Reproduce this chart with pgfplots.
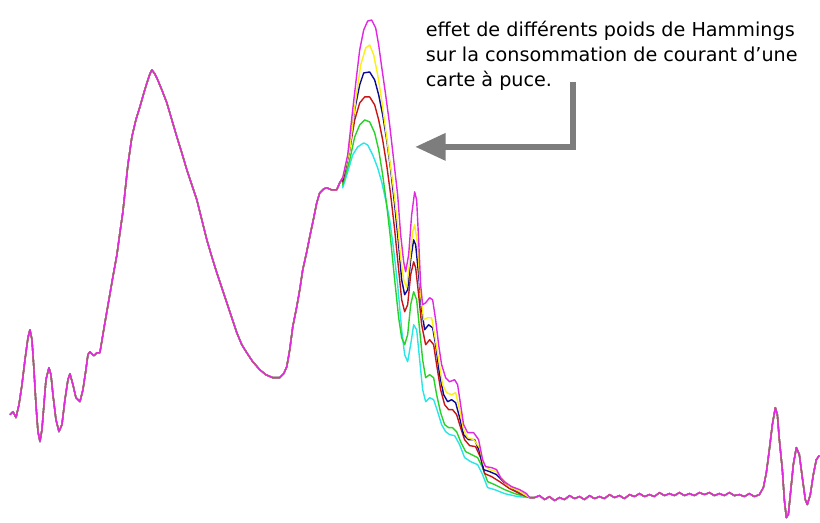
\documentclass[border=0pt]{standalone}
\usepackage{pgfplots}
\pgfplotsset{compat=1.18}
\usepackage{pgfplotstable}
\usepackage{fontspec}
\setmainfont{DejaVu Sans}
\definecolor{cM}{RGB}{225,40,225}
\definecolor{cY}{RGB}{250,240,20}
\definecolor{cB}{RGB}{10,10,150}
\definecolor{cR}{RGB}{200,20,20}
\definecolor{cG}{RGB}{40,210,40}
\definecolor{cC}{RGB}{40,230,230}
\definecolor{arr}{RGB}{125,125,125}

\pgfplotstableread{
x y
10 415
13 412
16 418
19 405
22 385
25 360
28 338
30 330
32 340
34 370
36 405
38 432
40 442
42 430
44 405
46 380
49 368
51 375
53 395
56 420
59 432
62 425
65 400
68 380
70 374
73 385
76 398
80 402
83 390
86 370
88 355
90 352
94 356
97 353
100 353
103 335
105 323
109 300
113 277
117 255
120 233
123 212
125 193
128 165
132 137
136 120
140 107
144 93
147 83
150 74
152 70
155 74
157 78
162 90
167 103
172 120
177 137
182 153
187 170
192 185
197 200
202 220
207 240
212 257
217 273
222 288
227 303
232 318
237 333
242 345
247 353
253 362
260 370
266 375
273 378
280 378
284 374
287 367
290 350
293 327
297 307
300 290
303 270
307 252
310 237
314 218
317 203
320 193
324 189
327 188
332 190
337 190
340 183
343 178
}\leftbase

\pgfplotstableread{
x y
530 498
535 498
540 496
545 500
550 497
555 501
560 498
565 500
570 496
575 499
580 497
585 500
590 496
595 499
600 497
605 499
610 495
615 498
620 496
625 499
630 495
635 497
640 494
645 497
650 495
655 497
660 493
665 496
670 494
675 496
680 493
685 496
690 494
695 496
700 493
705 495
710 493
715 496
720 494
725 496
730 493
735 496
740 495
745 497
750 494
755 497
760 495
764 488
767 473
770 450
773 425
776 408
778 415
780 440
783 470
785 500
787 518
789 515
791 495
794 465
797 448
800 455
803 478
806 500
808 505
811 495
814 475
817 460
820 456
}\rightbase

\begin{document}
\begin{tikzpicture}
\begin{axis}[
  scale only axis, width=820pt, height=523pt,
  xmin=0, xmax=820, ymin=0, ymax=523, y dir=reverse,
  hide axis, clip=false,
  every axis plot/.append style={line width=1.4pt, no markers, line join=round},
]
\path (0,0) rectangle (820,523);
% cyan
\addplot[cC] table {\leftbase};
\addplot[cC] coordinates {(343,178) (343,188) (348,172) (353,155) (358,147) (364,143) (368,145) (373,155) (378,168) (382,182) (386,200) (390,220) (394,250) (398,285) (402,330) (405,355) (408,362) (411,345) (414,325) (417,330) (420,360) (423,390) (426,402) (430,398) (434,400) (438,412) (442,425) (446,432) (450,435) (455,436) (460,445) (465,458) (471,462) (478,465) (483,475) (488,488) (495,490) (505,494) (518,497) (530,498)};
\addplot[cC] table {\rightbase};
% green
\addplot[cG] table {\leftbase};
\addplot[cG] coordinates {(343,178) (343,185) (350,160) (355,137) (360,125) (365,120) (370,122) (375,133) (379,150) (383,175) (387,205) (391,240) (395,280) (399,318) (402,338) (405,345) (408,335) (411,305) (414,292) (417,300) (420,330) (423,360) (426,378) (430,375) (434,378) (437,395) (441,413) (445,425) (449,428) (453,428) (457,432) (461,442) (466,452) (472,455) (478,458) (483,468) (488,482) (495,485) (505,490) (515,494) (530,498)};
\addplot[cG] table {\rightbase};
% red
\addplot[cR] table {\leftbase};
\addplot[cR] coordinates {(343,178) (343,182) (350,150) (355,120) (360,103) (365,97) (370,97) (375,105) (379,120) (383,140) (387,165) (391,195) (395,230) (399,270) (402,300) (405,312) (408,305) (411,275) (414,262) (416,268) (419,295) (422,325) (426,345) (430,340) (434,345) (437,365) (441,390) (445,405) (449,410) (453,410) (457,415) (461,428) (465,440) (470,446) (476,447) (481,458) (485,474) (492,477) (500,482) (510,489) (520,494) (530,498)};
\addplot[cR] table {\rightbase};
% blue
\addplot[cB] table {\leftbase};
\addplot[cB] coordinates {(343,178) (343,180) (350,150) (355,110) (360,85) (364,73) (370,72) (375,80) (379,95) (383,115) (387,140) (391,170) (395,205) (399,245) (402,280) (405,295) (408,290) (411,260) (414,240) (416,245) (419,275) (422,310) (425,330) (429,325) (433,328) (436,345) (440,375) (444,395) (448,402) (452,400) (456,403) (460,418) (464,435) (469,440) (475,440) (480,452) (484,470) (490,472) (497,475) (505,483) (515,490) (525,495) (530,498)};
\addplot[cB] table {\rightbase};
% yellow
\addplot[cY] table {\leftbase};
\addplot[cY] coordinates {(343,178) (350,150) (356,100) (361,65) (366,48) (370,45) (374,55) (378,75) (382,100) (386,130) (390,160) (394,190) (398,225) (401,258) (404,280) (407,288) (410,262) (413,232) (415,225) (418,245) (421,295) (424,320) (428,318) (432,318) (435,335) (439,360) (443,385) (447,393) (452,395) (456,393) (460,410) (464,430) (468,438) (474,440) (480,448) (484,465) (490,470) (497,472) (503,480) (510,487) (520,492) (530,498)};
\addplot[cY] table {\rightbase};
% magenta
\addplot[cM] table {\leftbase};
\addplot[cM] coordinates {(343,178) (348,155) (353,110) (357,75) (360,50) (364,30) (368,21) (372,20) (376,28) (379,45) (382,67) (386,95) (390,125) (394,160) (398,195) (401,235) (404,262) (406,272) (409,255) (412,215) (415,192) (417,200) (419,240) (421,285) (423,305) (426,303) (430,298) (433,300) (436,320) (439,345) (442,365) (446,378) (450,382) (455,380) (458,385) (461,405) (464,425) (468,433) (474,433) (479,440) (483,460) (486,467) (492,468) (497,470) (501,478) (506,483) (512,487) (520,490) (527,494) (530,498)};
\addplot[cM] table {\rightbase};

% annotation
\node[anchor=base west, inner sep=0pt, font=\fontsize{19.2}{24}\selectfont] at (426,37) {effet de différents poids de Hammings};
\node[anchor=base west, inner sep=0pt, font=\fontsize{19.2}{24}\selectfont] at (426,62) {sur la consommation de courant d’une};
\node[anchor=base west, inner sep=0pt, font=\fontsize{19.2}{24}\selectfont] at (426,87) {carte à puce.};
\draw[arr, line width=6pt] (573,82) -- (573,147) -- (440,147);
\fill[arr] (416,147) -- (446,133) -- (446,161) -- cycle;
\end{axis}
\end{tikzpicture}
\end{document}
